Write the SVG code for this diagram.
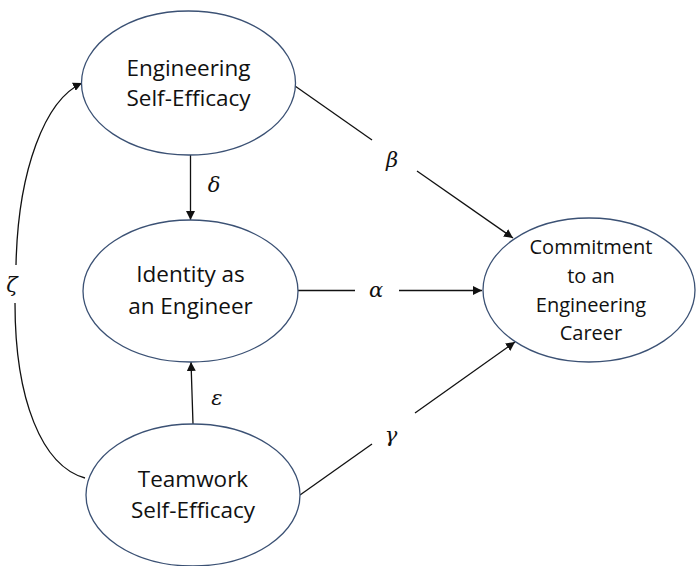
<svg xmlns="http://www.w3.org/2000/svg" width="696" height="566" viewBox="0 0 696 566">
  <style>
    .node ellipse { fill: #ffffff; stroke: #3b5174; stroke-width: 1.3; }
    .label { font-family: "Open Sans", "Liberation Sans", sans-serif; font-size: 22.5px; fill: #111111; text-anchor: middle; }
    .label.small { font-size: 20px; }
    .edge { fill: none; stroke: #111111; stroke-width: 1.3; }
    .coef { font-family: "DejaVu Serif", "Liberation Serif", serif; font-style: italic; font-size: 21px; fill: #111111; text-anchor: middle; }
  </style>
  <defs>
    <marker id="arrow" viewBox="0 0 10 10" refX="10" refY="5" markerWidth="9" markerHeight="9" markerUnits="userSpaceOnUse" orient="auto">
      <path d="M0,0 L10,5 L0,10 z" fill="#111111"/>
    </marker>
  </defs>
  <rect width="696" height="566" fill="#ffffff"/>

  <!-- paths between constructs -->
  <g id="connectors">
    <!-- beta: engineering self-efficacy -> commitment -->
    <line class="edge" x1="295" y1="86" x2="372" y2="140"/>
    <line class="edge" x1="417" y1="171" x2="513" y2="238" marker-end="url(#arrow)"/>
    <!-- alpha: identity -> commitment -->
    <line class="edge" x1="298" y1="290.5" x2="355" y2="290.5"/>
    <line class="edge" x1="399" y1="290.5" x2="482" y2="290.5" marker-end="url(#arrow)"/>
    <!-- gamma: teamwork self-efficacy -> commitment -->
    <line class="edge" x1="300" y1="495" x2="372" y2="444"/>
    <line class="edge" x1="415" y1="413" x2="515" y2="342" marker-end="url(#arrow)"/>
    <!-- delta: engineering self-efficacy -> identity -->
    <line class="edge" x1="190.5" y1="155" x2="190.5" y2="220" marker-end="url(#arrow)"/>
    <!-- epsilon: teamwork self-efficacy -> identity -->
    <line class="edge" x1="193" y1="424" x2="191" y2="362" marker-end="url(#arrow)"/>
    <!-- zeta: teamwork self-efficacy -> engineering self-efficacy -->
    <path class="edge" d="M85,478 C42,466 15,400 15,303"/>
    <path class="edge" d="M16,265 C18,170 45,100 82,83" marker-end="url(#arrow)"/>

    <text class="coef" x="392" y="167">β</text>
    <text class="coef" x="214" y="192">δ</text>
    <text class="coef" x="376" y="297">α</text>
    <text class="coef" x="217" y="405">ε</text>
    <text class="coef" x="391" y="442">γ</text>
    <text class="coef" x="12" y="292">ζ</text>
  </g>

  <g id="engineering-self-efficacy" class="node">
    <ellipse cx="188.5" cy="83" rx="107" ry="72"/>
    <text class="label" x="188.5" y="76">Engineering</text>
    <text class="label" x="188.5" y="106">Self-Efficacy</text>
  </g>

  <g id="identity-as-engineer" class="node">
    <ellipse cx="190.5" cy="291" rx="107.5" ry="71"/>
    <text class="label" x="190.5" y="282">Identity as</text>
    <text class="label" x="190.5" y="314">an Engineer</text>
  </g>

  <g id="teamwork-self-efficacy" class="node">
    <ellipse cx="193" cy="495" rx="107" ry="71"/>
    <text class="label" x="193" y="487">Teamwork</text>
    <text class="label" x="193" y="518">Self-Efficacy</text>
  </g>

  <g id="commitment-to-career" class="node">
    <ellipse cx="589" cy="290" rx="106" ry="72"/>
    <text class="label small" x="591" y="254">Commitment</text>
    <text class="label small" x="591" y="283">to an</text>
    <text class="label small" x="591" y="312">Engineering</text>
    <text class="label small" x="591" y="340">Career</text>
  </g>
</svg>
